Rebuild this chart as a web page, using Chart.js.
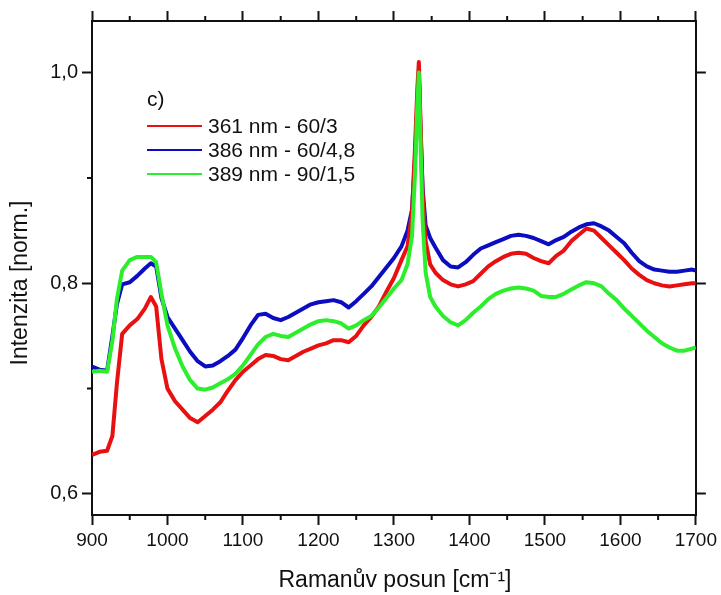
<!DOCTYPE html>
<html lang="cs">
<head>
<meta charset="utf-8">
<title>Ramanova spektra c)</title>
<script src="https://cdn.jsdelivr.net/npm/chart.js@4.4.1/dist/chart.umd.min.js"></script>
<style>
    html, body { margin: 0; padding: 0; background: #fff; }
    #wrap { width: 721px; height: 595px; }
</style>
</head>
<body>
<div id="wrap"><canvas id="ramanChart" width="721" height="595"></canvas></div>
<script>
// Données
const wavenumbers = [
    900, 910, 920, 927, 933, 940, 950, 960, 970, 978,
    985, 992, 1000, 1010, 1020, 1030, 1040, 1050, 1060, 1070,
    1080, 1090, 1100, 1110, 1120, 1130, 1140, 1150, 1160, 1170,
    1180, 1190, 1200, 1210, 1220, 1230, 1240, 1250, 1260, 1270,
    1280, 1290, 1300, 1310, 1318, 1324, 1328, 1331, 1333, 1335,
    1338, 1342, 1348, 1355, 1365, 1375, 1385, 1395, 1405, 1415,
    1425, 1435, 1445, 1455, 1465, 1475, 1485, 1495, 1505, 1515,
    1525, 1535, 1545, 1555, 1565, 1575, 1585, 1595, 1605, 1615,
    1625, 1635, 1645, 1655, 1665, 1675, 1685, 1695, 1700
];

const red361 = [
    0.637, 0.640, 0.641, 0.655, 0.705, 0.752, 0.760, 0.766, 0.776, 0.787,
    0.778, 0.728, 0.700, 0.688, 0.680, 0.672, 0.668, 0.674, 0.680, 0.687,
    0.698, 0.708, 0.716, 0.722, 0.728, 0.732, 0.731, 0.728, 0.727, 0.731,
    0.735, 0.738, 0.741, 0.743, 0.746, 0.746, 0.744, 0.750, 0.760, 0.768,
    0.778, 0.792, 0.805, 0.822, 0.835, 0.868, 0.930, 0.985, 1.010, 0.960,
    0.885, 0.840, 0.818, 0.810, 0.803, 0.799, 0.797, 0.799, 0.802, 0.809,
    0.816, 0.821, 0.825, 0.828, 0.829, 0.828, 0.824, 0.821, 0.819, 0.826,
    0.831, 0.840, 0.846, 0.852, 0.850, 0.843, 0.836, 0.829, 0.822, 0.814,
    0.808, 0.803, 0.800, 0.798, 0.797, 0.798, 0.799, 0.800, 0.800
];

const blue386 = [
    0.721, 0.718, 0.717, 0.750, 0.780, 0.799, 0.801, 0.807, 0.814, 0.819,
    0.816, 0.786, 0.768, 0.757, 0.746, 0.735, 0.726, 0.721, 0.722, 0.726,
    0.731, 0.737, 0.748, 0.760, 0.770, 0.771, 0.767, 0.765, 0.768, 0.772,
    0.776, 0.780, 0.782, 0.783, 0.784, 0.782, 0.777, 0.783, 0.790, 0.797,
    0.806, 0.815, 0.824, 0.835, 0.850, 0.870, 0.920, 0.970, 1.000, 0.950,
    0.890, 0.855, 0.843, 0.834, 0.822, 0.816, 0.815, 0.820, 0.827, 0.833,
    0.836, 0.839, 0.842, 0.845, 0.846, 0.845, 0.843, 0.840, 0.837, 0.841,
    0.844, 0.849, 0.853, 0.856, 0.857, 0.854, 0.850, 0.844, 0.838, 0.829,
    0.821, 0.816, 0.813, 0.812, 0.811, 0.811, 0.812, 0.813, 0.812
];

const green389 = [
    0.716, 0.717, 0.716, 0.745, 0.785, 0.812, 0.822, 0.825, 0.825, 0.825,
    0.820, 0.790, 0.760, 0.738, 0.721, 0.708, 0.700, 0.699, 0.701, 0.705,
    0.709, 0.714, 0.722, 0.732, 0.742, 0.749, 0.752, 0.750, 0.749, 0.753,
    0.757, 0.761, 0.764, 0.765, 0.764, 0.762, 0.757, 0.760, 0.765, 0.769,
    0.777, 0.786, 0.795, 0.803, 0.818, 0.845, 0.905, 0.970, 1.000, 0.940,
    0.860, 0.810, 0.787, 0.778, 0.769, 0.763, 0.760, 0.765, 0.772, 0.778,
    0.785, 0.790, 0.793, 0.795, 0.796, 0.795, 0.793, 0.788, 0.787, 0.787,
    0.790, 0.794, 0.798, 0.801, 0.800, 0.797, 0.790, 0.784, 0.776, 0.769,
    0.762, 0.755, 0.749, 0.743, 0.739, 0.736, 0.736, 0.738, 0.739
];

const seriesLabels = ['361 nm - 60/3', '386 nm - 60/4,8', '389 nm - 90/1,5'];
const panelLabel = 'c)';
const xTitle = 'Ramanův posun [cm⁻¹]';
const yTitle = 'Intenzita [norm.]';

const xMajorTicks = [900, 1000, 1100, 1200, 1300, 1400, 1500, 1600, 1700];
const xMinorTicks = [950, 1050, 1150, 1250, 1350, 1450, 1550, 1650];
const yMajorTicks = [0.6, 0.8, 1.0];
const yMinorTicks = [0.7, 0.9];

const FONT = "'Liberation Sans', Arial, sans-serif";
const INK = '#111';

/**
 * Graduations secondaires, titres des axes et légende
 */
const decorPlugin = {
    id: 'decor',
    afterDraw(chart) {
        const ctx = chart.ctx;
        const x = chart.scales.x;
        const y = chart.scales.y;
        const area = chart.chartArea;

        ctx.save();
        ctx.strokeStyle = INK;
        ctx.lineWidth = 2;
        ctx.beginPath();
        xMinorTicks.forEach(v => {
            const px = x.getPixelForValue(v);
            ctx.moveTo(px, area.bottom);
            ctx.lineTo(px, area.bottom + 5);
            ctx.moveTo(px, area.top);
            ctx.lineTo(px, area.top - 5);
        });
        yMinorTicks.forEach(v => {
            const py = y.getPixelForValue(v);
            ctx.moveTo(area.left, py);
            ctx.lineTo(area.left - 5, py);
        });
        ctx.stroke();

        // Titres des axes
        ctx.fillStyle = INK;
        ctx.font = '23px ' + FONT;
        ctx.textAlign = 'center';
        ctx.textBaseline = 'middle';
        ctx.fillText(xTitle, 395, 581);
        ctx.save();
        ctx.translate(21, 283);
        ctx.rotate(-Math.PI / 2);
        ctx.fillText(yTitle, 0, 0);
        ctx.restore();

        // Légende
        ctx.font = '21px ' + FONT;
        ctx.textAlign = 'left';
        ctx.fillText(panelLabel, 147, 100);
        chart.data.datasets.forEach((ds, i) => {
            const ly = 126 + i * 24;
            ctx.strokeStyle = ds.borderColor;
            ctx.lineWidth = 2;
            ctx.beginPath();
            ctx.moveTo(147, ly);
            ctx.lineTo(202, ly);
            ctx.stroke();
            ctx.fillText(ds.label, 208, ly + 1);
        });
        ctx.restore();
    }
};

function toPoints(values) {
    return wavenumbers.map((w, i) => ({ x: w, y: values[i] }));
}

function setTicks(list) {
    return function(scale) {
        scale.ticks = list.map(v => ({ value: v }));
    };
}

const axisGrid = {
    drawOnChartArea: false,
    drawTicks: true,
    tickLength: 10,
    tickWidth: 2,
    tickColor: INK
};
const axisBorder = { display: true, color: INK, width: 2 };

new Chart(document.getElementById('ramanChart'), {
    type: 'line',
    data: {
        datasets: [
            {
                label: seriesLabels[0],
                data: toPoints(red361),
                borderColor: '#e81010',
                order: 2
            },
            {
                label: seriesLabels[1],
                data: toPoints(blue386),
                borderColor: '#0c0cc0',
                order: 3
            },
            {
                label: seriesLabels[2],
                data: toPoints(green389),
                borderColor: '#2cee2c',
                order: 1
            }
        ]
    },
    options: {
        responsive: false,
        animation: false,
        devicePixelRatio: 1,
        layout: { padding: 0 },
        elements: {
            line: { borderWidth: 4, tension: 0, borderJoinStyle: 'round' },
            point: { radius: 0 }
        },
        plugins: {
            legend: { display: false },
            tooltip: { enabled: false }
        },
        scales: {
            x: {
                type: 'linear',
                position: 'bottom',
                min: 900,
                max: 1700,
                afterBuildTicks: setTicks(xMajorTicks),
                afterFit: s => { s.height = 80; },
                grid: axisGrid,
                border: axisBorder,
                ticks: {
                    color: INK,
                    padding: 4,
                    maxRotation: 0,
                    font: { family: FONT, size: 19 },
                    callback: v => String(v)
                }
            },
            x2: {
                type: 'linear',
                position: 'top',
                min: 900,
                max: 1700,
                afterBuildTicks: setTicks(xMajorTicks),
                afterFit: s => { s.height = 21; },
                grid: axisGrid,
                border: axisBorder,
                ticks: { display: false }
            },
            y: {
                type: 'linear',
                position: 'left',
                min: 0.58,
                max: 1.049,
                afterBuildTicks: setTicks(yMajorTicks),
                afterFit: s => { s.width = 92; },
                grid: axisGrid,
                border: axisBorder,
                ticks: {
                    color: INK,
                    padding: 4,
                    font: { family: FONT, size: 20 },
                    callback: v => v.toFixed(1).replace('.', ',')
                }
            },
            y2: {
                type: 'linear',
                position: 'right',
                min: 0.58,
                max: 1.049,
                afterBuildTicks: setTicks(yMajorTicks),
                afterFit: s => { s.width = 22; },
                grid: axisGrid,
                border: axisBorder,
                ticks: { display: false }
            }
        }
    },
    plugins: [decorPlugin]
});
</script>
</body>
</html>
